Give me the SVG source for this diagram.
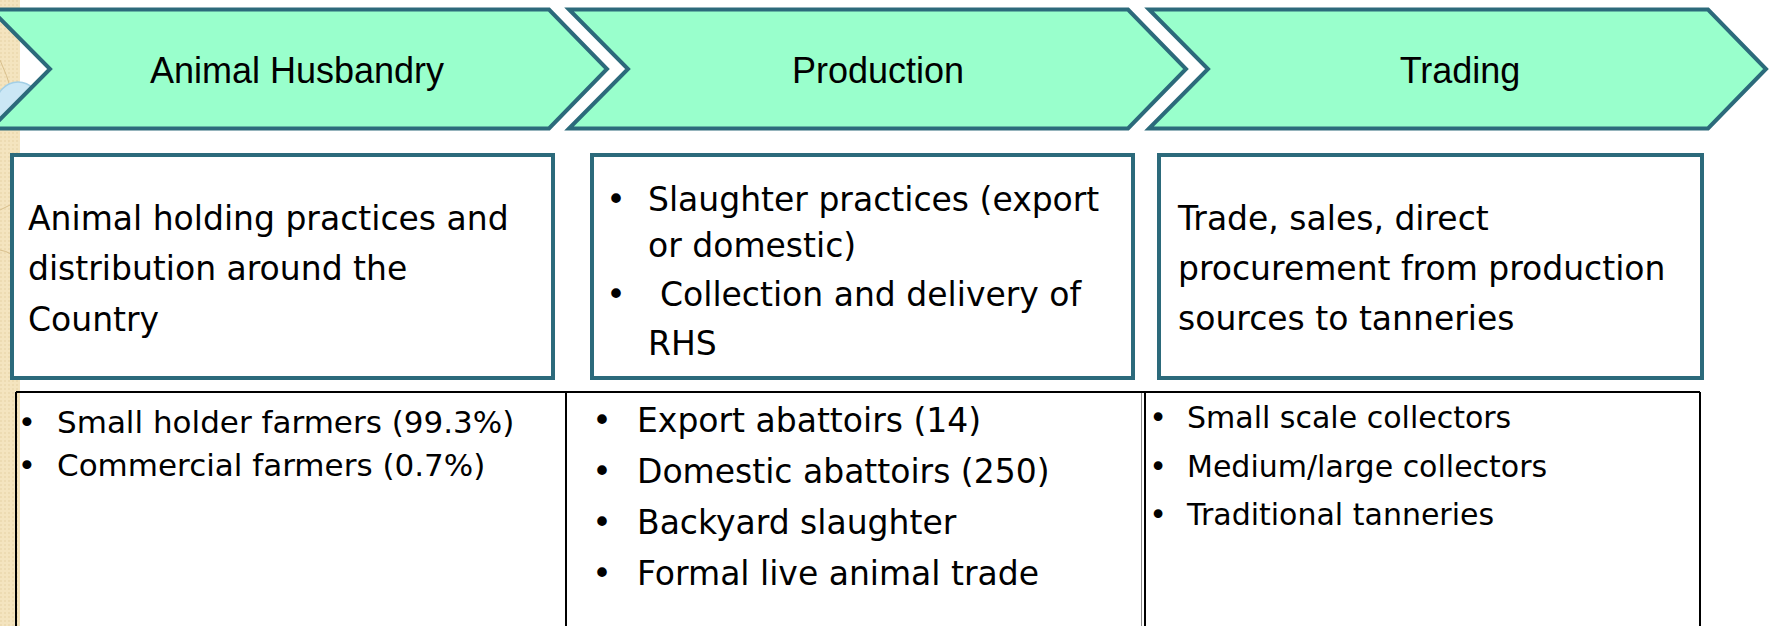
<svg xmlns="http://www.w3.org/2000/svg" width="1770" height="626" viewBox="0 0 1770 626">
<defs>
<pattern id="dots" width="4" height="4" patternUnits="userSpaceOnUse"><rect width="4" height="4" fill="#F4E4BF"/><circle cx="1" cy="1" r="0.8" fill="#E6D1A2"/></pattern>
<style>
.chev{fill:#99FFCC;stroke:#2C6A7B;stroke-width:4;stroke-linejoin:miter}
.box{fill:#FFFFFF;stroke:#2C6A7B;stroke-width:4}
.head{font-family:"Liberation Sans",Arial,sans-serif;font-size:36px;fill:#000;text-anchor:middle}
.body{font-family:"DejaVu Sans",sans-serif;font-size:33px;fill:#000}
.c1{font-family:"DejaVu Sans",sans-serif;font-size:31px;fill:#000}
.c3{font-family:"DejaVu Sans",sans-serif;font-size:30px;fill:#000}
.bul{text-anchor:middle}
.tl{stroke:#000;stroke-width:2;fill:none}
</style>
</defs>
<rect width="1770" height="626" fill="#FFFFFF"/>
<g id="background-strip">
<rect x="0" y="0" width="20" height="626" fill="url(#dots)"/>
<path d="M0 60 Q14 90 20 130 M0 210 Q10 205 20 200 M0 250 Q12 252 20 262" fill="none" stroke="#D8BF8C" stroke-width="1"/>
<ellipse cx="18" cy="105" rx="22" ry="23" fill="#CBE7F5" stroke="#A3CFE6" stroke-width="1.5"/>
</g>
<g id="node-animal-husbandry">
<polygon class="chev" points="-9,9.5 549,9.5 607,69 549,128.5 -9,128.5 50,69"/>
<text class="head" x="297" y="83">Animal Husbandry</text>
</g>
<g id="node-production">
<polygon class="chev" points="569,9.5 1128,9.5 1186,69 1128,128.5 569,128.5 628,69"/>
<text class="head" x="878" y="83">Production</text>
</g>
<g id="node-trading">
<polygon class="chev" points="1149,9.5 1708,9.5 1766,69 1708,128.5 1149,128.5 1208,69"/>
<text class="head" x="1460" y="83">Trading</text>
</g>
<g id="box-husbandry">
<rect class="box" x="12" y="155" width="541" height="223"/>
<text class="body" x="28" y="230">Animal holding practices and</text>
<text class="body" x="28" y="280">distribution around the</text>
<text class="body" x="28" y="331">Country</text>
</g>
<g id="box-production">
<rect class="box" x="592" y="155" width="541" height="223"/>
<text class="body bul" x="616" y="211">•</text>
<text class="body" x="648" y="211">Slaughter practices (export</text>
<text class="body" x="648" y="257">or domestic)</text>
<text class="body bul" x="616" y="306">•</text>
<text class="body" x="660" y="306">Collection and delivery of</text>
<text class="body" x="648" y="355">RHS</text>
</g>
<g id="box-trading">
<rect class="box" x="1159" y="155" width="543" height="223"/>
<text class="body" x="1178" y="230">Trade, sales, direct</text>
<text class="body" x="1178" y="280">procurement from production</text>
<text class="body" x="1178" y="330">sources to tanneries</text>
</g>
<g id="table">
<path class="tl" d="M16 392 H1700 M16 392 V626 M566 392 V626 M1145 392 V626 M1700 392 V626"/>
<path d="M1141.5 393 V626" stroke="#888" stroke-width="1" fill="none"/>
<text class="c1 bul" x="27" y="433">•</text>
<text class="c1" x="57" y="433">Small holder farmers (99.3%)</text>
<text class="c1 bul" x="27" y="476">•</text>
<text class="c1" x="57" y="476">Commercial farmers (0.7%)</text>
<text class="body bul" x="602" y="432">•</text>
<text class="body" x="637" y="432">Export abattoirs (14)</text>
<text class="body bul" x="602" y="483">•</text>
<text class="body" x="637" y="483">Domestic abattoirs (250)</text>
<text class="body bul" x="602" y="534">•</text>
<text class="body" x="637" y="534">Backyard slaughter</text>
<text class="body bul" x="602" y="585">•</text>
<text class="body" x="637" y="585">Formal live animal trade</text>
<text class="c3 bul" x="1158" y="428">•</text>
<text class="c3" x="1187" y="428">Small scale collectors</text>
<text class="c3 bul" x="1158" y="477">•</text>
<text class="c3" x="1187" y="477">Medium/large collectors</text>
<text class="c3 bul" x="1158" y="525">•</text>
<text class="c3" x="1187" y="525">Traditional tanneries</text>
</g>
<g id="connectors"/>
</svg>
